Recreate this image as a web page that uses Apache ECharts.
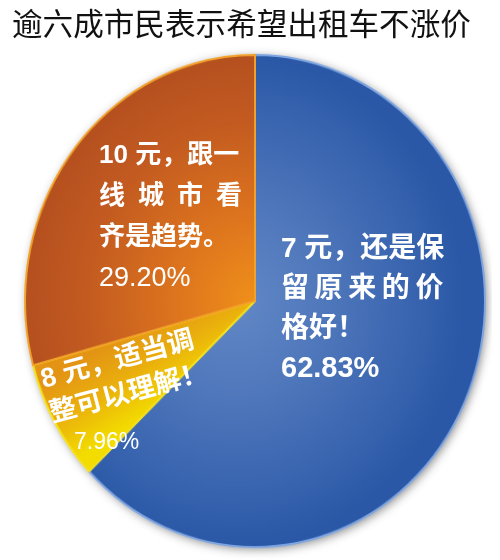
<!DOCTYPE html>
<html>
<head>
<meta charset="utf-8">
<script src="https://cdn.jsdelivr.net/npm/echarts@6/dist/echarts.min.js"></script>
<style>
  html, body { margin: 0; padding: 0; background: #ffffff; }
  #wrap { position: relative; width: 500px; height: 560px; overflow: hidden; }
  #pie, #text { position: absolute; left: 0; top: 0; width: 500px; height: 560px; }
  /* the printed pie is slightly taller than wide */
  #pie { transform-origin: 255px 301px; transform: scale(0.966, 1.034); }
</style>
</head>
<body>
<div id="wrap">
  <div id="pie"></div>
  <div id="text"></div>
</div>
<script>
// Survey: preferred taxi starting fare
const titleText = '逾六成市民表示希望出租车不涨价';
const fareOptions = ['7元', '8元', '10元'];
const shares = [62.83, 7.96, 29.20];
const blueLines = ['7 元，还是保', '留\u2009原\u2009来\u2009的\u2009价', '格好！'];
const yellowLines = ['8 元，适当调', '整可以理解！'];
const orangeLines = ['10 元，跟一', '线\u2002城\u2002市\u2002看', '齐是趋势。'];
const descLines = [blueLines, yellowLines, orangeLines];

const CX = 255, CY = 301, R = 238;
const latin = '"Liberation Sans", Arial, "Noto Sans CJK SC", sans-serif';

function stopsOf(stops) {
  return stops.map(s => ({ offset: s[0], color: s[1] }));
}
function radial(stops, cx, cy) {
  return { type: 'radial', x: cx, y: cy, r: R, global: true, colorStops: stopsOf(stops) };
}
function linear(stops, x, y, x2, y2) {
  return { type: 'linear', x: x, y: y, x2: x2, y2: y2, global: true, colorStops: stopsOf(stops) };
}

const sliceStyles = [
  { // blue
    color: radial([[0, '#6288c6'], [0.4, '#4f77bb'], [0.75, '#3a65b0'], [1, '#2a58a6']], CX - 20, CY),
    borderColor: '#80a6e2'
  },
  { // yellow: gold on the orange side, bright yellow along the blue side
    color: linear([[0, '#e39414'], [0.45, '#eaae0e'], [1, '#f3dc00']], 105, 341, 145, 411),
    borderColor: '#f7e21a'
  },
  { // orange
    color: radial([[0, '#f0901a'], [0.35, '#dd741e'], [0.75, '#c25a21'], [1, '#b5501f']], CX, CY),
    borderColor: '#f2a22a'
  }
];

const pieData = fareOptions.map((name, i) => ({
  name: name,
  value: shares[i],
  itemStyle: Object.assign({ borderWidth: 2 }, sliceStyles[i])
}));
const total = shares.reduce((a, b) => a + b, 0);

// Layer 1: the pie itself
const pieChart = echarts.init(document.getElementById('pie'), null, { renderer: 'canvas' });
pieChart.setOption({
  backgroundColor: '#ffffff',
  animation: false,
  series: [
    { // disc underneath, carries the soft drop shadow
      type: 'pie', silent: true, z: 1,
      center: [CX, CY], radius: R,
      label: { show: false }, labelLine: { show: false },
      itemStyle: {
        color: '#3a64ae',
        shadowBlur: 10, shadowColor: 'rgba(0,0,0,0.45)', shadowOffsetX: 2, shadowOffsetY: 2
      },
      data: [{ name: 'total', value: total }]
    },
    {
      type: 'pie', silent: true, z: 2,
      center: [CX, CY], radius: R,
      startAngle: 90, clockwise: true,
      label: { show: false }, labelLine: { show: false },
      data: pieData
    }
  ]
});

// Layer 2: title and slice captions
const textChart = echarts.init(document.getElementById('text'), null, { renderer: 'canvas' });
const plainData = fareOptions.map((name, i) => ({ name: name, value: shares[i] }));
textChart.setOption({
  backgroundColor: 'transparent',
  animation: false,
  title: {
    text: titleText,
    left: 12, top: 8, padding: 0,
    textStyle: { fontSize: 30.6, fontWeight: 'normal', color: '#111111', fontFamily: '"Noto Sans CJK SC", sans-serif' }
  },
  series: [
    { // captions with the description text
      type: 'pie', silent: true,
      center: [CX, CY], radius: R,
      startAngle: 90, clockwise: true,
      avoidLabelOverlap: false,
      itemStyle: { color: 'rgba(0,0,0,0)', borderWidth: 0 },
      labelLine: { show: false },
      label: {
        show: true, position: 'inside', color: '#ffffff',
        fontFamily: latin,
        formatter: p => {
          const i = p.dataIndex;
          const body = descLines[i].map(l => '{d' + i + '|' + l + '}').join('\n');
          if (i === 1) return body;
          return body + '\n{p' + i + '|' + p.value.toFixed(2) + '%}';
        },
        rich: {
          d0: { fontSize: 28, fontWeight: 'bold', lineHeight: 40, color: '#fff', fontFamily: latin },
          p0: { fontSize: 29, fontWeight: 'bold', lineHeight: 40, color: '#fff', fontFamily: latin },
          d1: { fontSize: 27, fontWeight: 'bold', lineHeight: 35, color: '#fff', fontFamily: latin },
          d2: { fontSize: 26, fontWeight: 'bold', lineHeight: 41, color: '#fff', fontFamily: latin },
          p2: { fontSize: 27, fontWeight: 'normal', lineHeight: 41, color: '#fff', fontFamily: latin }
        }
      },
      labelLayout: params => {
        const i = params.dataIndex;
        if (i === 0) return { x: 281, y: 229, align: 'left', verticalAlign: 'top' };
        if (i === 1) return { x: 37, y: 364, align: 'left', verticalAlign: 'top', rotate: 15 };
        return { x: 99, y: 135, align: 'left', verticalAlign: 'top' };
      },
      data: plainData
    },
    { // small share label of the 8元 slice
      type: 'pie', silent: true,
      center: [CX, CY], radius: R,
      startAngle: 90, clockwise: true,
      avoidLabelOverlap: false,
      itemStyle: { color: 'rgba(0,0,0,0)', borderWidth: 0 },
      labelLine: { show: false },
      label: {
        show: true, position: 'inside', color: '#ffffff',
        fontFamily: latin, fontSize: 23, fontWeight: 'normal',
        formatter: p => (p.dataIndex === 1 ? p.value.toFixed(2) + '%' : '')
      },
      labelLayout: params => (params.dataIndex === 1
        ? { x: 74, y: 443, align: 'left', verticalAlign: 'middle' }
        : {}),
      data: plainData
    }
  ]
});
</script>
</body>
</html>
